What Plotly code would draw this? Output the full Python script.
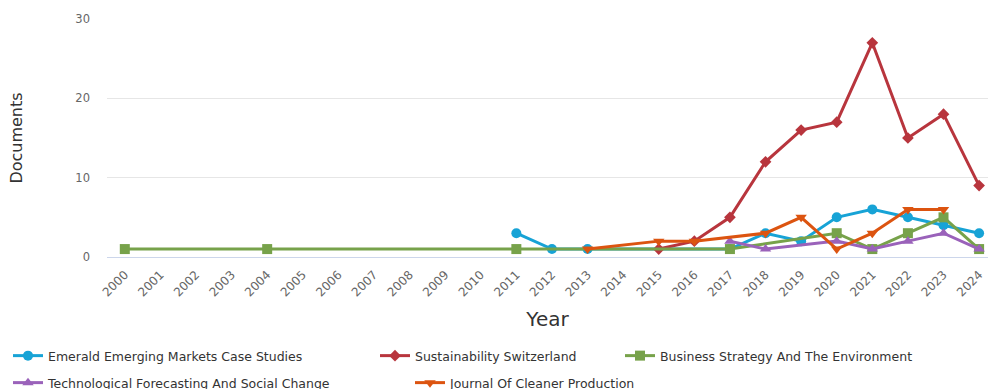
import plotly.graph_objects as go

# ---- data ----
years_all = list(range(2000, 2025))

emerald_years = [2011, 2012, 2013, 2017, 2018, 2019, 2020, 2021, 2022, 2023, 2024]
emerald_docs = [3, 1, 1, 1, 3, 2, 5, 6, 5, 4, 3]

swiss_years = [2015, 2016, 2017, 2018, 2019, 2020, 2021, 2022, 2023, 2024]
swiss_docs = [1, 2, 5, 12, 16, 17, 27, 15, 18, 9]

bse_years = [2000, 2004, 2011, 2017, 2020, 2021, 2022, 2023, 2024]
bse_docs = [1, 1, 1, 1, 3, 1, 3, 5, 1]

tfsc_years = [2017, 2018, 2020, 2021, 2022, 2023, 2024]
tfsc_docs = [2, 1, 2, 1, 2, 3, 1]

jcp_years = [2013, 2015, 2016, 2018, 2019, 2020, 2021, 2022, 2023]
jcp_docs = [1, 2, 2, 3, 5, 1, 3, 6, 6]

tick_labels = [str(y) for y in years_all]
y_ticks = [0, 10, 20, 30]

FONT = "DejaVu Sans"

series = [
    ("Emerald Emerging Markets Case Studies", emerald_years, emerald_docs, "#17a3d6", "circle", "legend"),
    ("Sustainability Switzerland", swiss_years, swiss_docs, "#b8353d", "diamond", "legend2"),
    ("Business Strategy And The Environment", bse_years, bse_docs, "#77a24a", "square", "legend3"),
    ("Technological Forecasting And Social Change", tfsc_years, tfsc_docs, "#9a62ba", "triangle-up", "legend4"),
    ("Journal Of Cleaner Production", jcp_years, jcp_docs, "#dc5410", "triangle-down", "legend5"),
]

fig = go.Figure()
for name, xs, ys, color, sym, leg in series:
    fig.add_trace(go.Scatter(
        x=xs, y=ys, name=name, mode="lines+markers",
        line=dict(color=color, width=3),
        marker=dict(color=color, symbol=sym, size=10 if sym != "diamond" else 9),
        legend=leg, cliponaxis=False, showlegend=True,
    ))

W, H = 988, 389

def leg(text_x, center_y):
    return dict(
        xref="container", yref="container",
        x=(text_x - 40) / W, y=1 - center_y / H,
        xanchor="left", yanchor="middle",
        orientation="h", bgcolor="rgba(0,0,0,0)",
        font=dict(family=FONT, size=12.5, color="#333333"),
        itemwidth=30,
    )

fig.update_layout(
    width=W, height=H,
    showlegend=True,
    margin=dict(l=107, r=0, t=19, b=132),
    paper_bgcolor="white", plot_bgcolor="white",
    font=dict(family=FONT, color="#666666"),
    legend=leg(48, 356),
    legend2=leg(415, 356),
    legend3=leg(660, 356),
    legend4=leg(48, 383),
    legend5=leg(450, 383),
    xaxis=dict(
        range=[1999.5, 2024.25],
        tickmode="array", tickvals=years_all, ticktext=tick_labels,
        tickangle=-45, tickfont=dict(family=FONT, size=12, color="#666666"),
        showgrid=False, zeroline=False,
        showline=True, linecolor="#ccd6eb", linewidth=1,
        ticks="", ticklabelstandoff=5,
        title=dict(text="Year", font=dict(family=FONT, size=20, color="#333333"), standoff=13),
        automargin=False,
    ),
    yaxis=dict(
        range=[0, 30], tickvals=y_ticks,
        tickfont=dict(family=FONT, size=11.5, color="#666666"),
        showgrid=True, gridcolor="#e6e6e6", gridwidth=1,
        zeroline=False, showline=False, ticks="",
        ticklabelstandoff=16,
        title=dict(text="Documents", font=dict(family=FONT, size=16, color="#333333"), standoff=48),
        automargin=False,
    ),
)

fig.write_html("out.html")
